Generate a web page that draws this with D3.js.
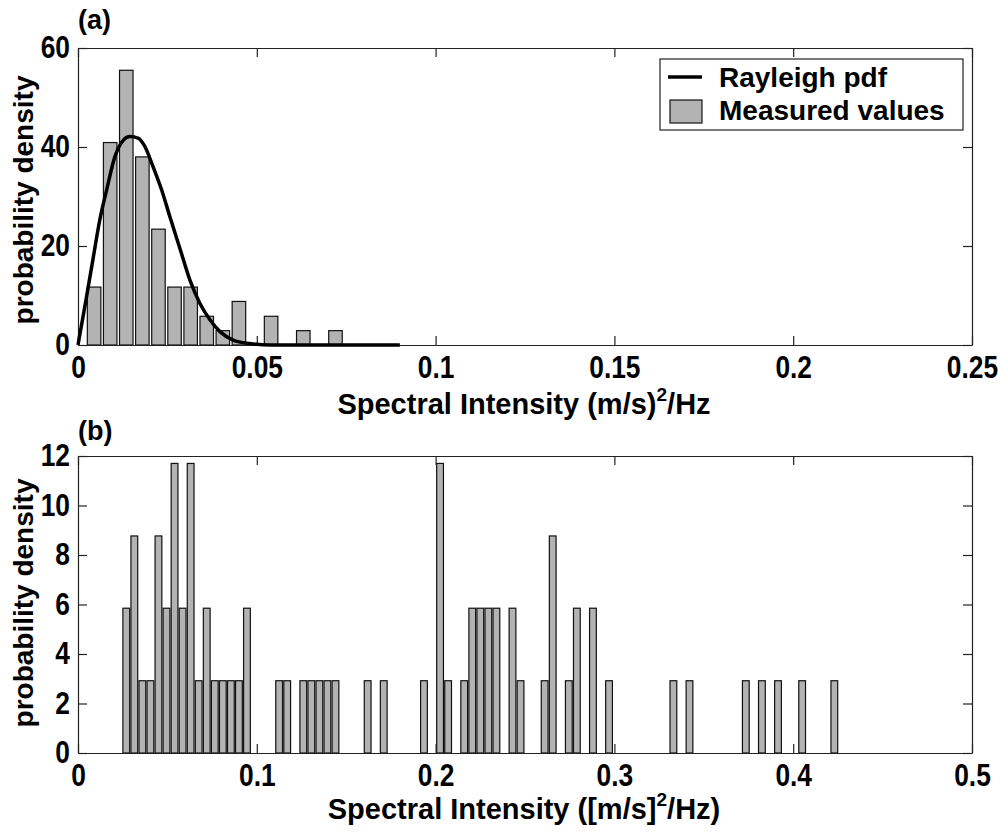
<!DOCTYPE html>
<html>
<head>
<meta charset="utf-8">
<script src="https://cdn.jsdelivr.net/npm/d3@7"></script>
<style>
body { margin: 0; background: #fff; }
svg { display: block; }
</style>
</head>
<body>
<script>
var width = 998;
var height = 833;

// ---- panel (a) data ----
const aBinCenters = [0.0045, 0.009, 0.0135, 0.018, 0.0225, 0.027, 0.0315, 0.036,
    0.0405, 0.045, 0.0495, 0.054, 0.0585, 0.063, 0.0675, 0.072];
const aDensity = [11.7, 40.9, 55.5, 38.0, 23.4, 11.7, 11.7, 5.8,
    2.9, 8.8, 0, 5.8, 0, 2.9, 0, 2.9];
// rayleigh pdf
const rayX = [0, 0.0024, 0.0043, 0.0061, 0.008, 0.0103, 0.0127, 0.0145, 0.0168, 0.0187,
    0.021, 0.0234, 0.0257, 0.0285, 0.0313, 0.0341, 0.0369, 0.0397, 0.0434, 0.048, 0.054, 0.07, 0.09];
const rayY = [0, 9.8, 17.8, 25.3, 31.3, 38.0, 41.4, 42.1, 41.8, 40.1,
    36.0, 31.3, 25.9, 19.5, 13.1, 8.4, 5.1, 2.7, 1.0, 0.3, 0, 0, 0];
const aXTicks = [0, 0.05, 0.1, 0.15, 0.2, 0.25];
const aYTicks = [0, 20, 40, 60];

// ---- panel (b) data ----
const bBinCenters = [0.027, 0.0315, 0.036, 0.0405, 0.045, 0.0495, 0.054, 0.0585, 0.063, 0.0675,
    0.072, 0.0765, 0.081, 0.0855, 0.09, 0.0945, 0.1125, 0.117, 0.126, 0.1305, 0.135, 0.1395, 0.144,
    0.162, 0.171, 0.1935, 0.2025, 0.207, 0.216, 0.2205, 0.225, 0.2295, 0.234, 0.243, 0.2475,
    0.261, 0.2655, 0.2745, 0.279, 0.288, 0.297, 0.333, 0.342, 0.3735, 0.3825, 0.3915, 0.405, 0.423];
const bDensity = [5.85, 8.77, 2.92, 2.92, 8.77, 5.85, 11.7, 5.85, 11.7, 2.92,
    5.85, 2.92, 2.92, 2.92, 2.92, 5.85, 2.92, 2.92, 2.92, 2.92, 2.92, 2.92, 2.92,
    2.92, 2.92, 2.92, 11.7, 2.92, 2.92, 5.85, 5.85, 5.85, 5.85, 5.85, 2.92,
    2.92, 8.77, 2.92, 5.85, 5.85, 2.92, 2.92, 2.92, 2.92, 2.92, 2.92, 2.92, 2.92];
const bXTicks = [0, 0.1, 0.2, 0.3, 0.4, 0.5];
const bYTicks = [0, 2, 4, 6, 8, 10, 12];

const binWidth = 0.0045;
const legendLabels = ["Rayleigh pdf", "Measured values"];

var font = "'Liberation Sans', Arial, sans-serif";
var squeeze = 0.85; // tick labels look narrow

var svg = d3.select("body").append("svg")
    .attr("width", width)
    .attr("height", height);

svg.append("rect").attr("width", width).attr("height", height).attr("fill", "#fff");

function panel(top, bottom, xmax, ymax, xTicks, yTicks, centers, dens) {
    var x = d3.scaleLinear().domain([0, xmax]).range([78, 972]);
    var y = d3.scaleLinear().domain([0, ymax]).range([bottom, top]);
    var g = svg.append("g");

    var bw = x(binWidth * 0.84) - x(0);
    g.append("g").selectAll("rect")
        .data(centers)
        .enter()
        .filter(function(d, i) { return dens[i] > 0; })
        .append("rect")
        .attr("x", function(d) { return x(d) - bw / 2; })
        .attr("width", bw)
        .attr("y", function(d) { return y(dens[centers.indexOf(d)]); })
        .attr("height", function(d) { return y(0) - y(dens[centers.indexOf(d)]); })
        .attr("fill", "#b3b3b3")
        .attr("stroke", "#111")
        .attr("stroke-width", 1.2);

    var ax = {
        bottom: d3.axisBottom(x).tickValues(xTicks).tickSizeInner(-9).tickSizeOuter(0).tickPadding(11).tickFormat(function(d) { return d; }),
        top: d3.axisTop(x).tickValues(xTicks).tickSizeInner(-9).tickSizeOuter(0).tickFormat(""),
        left: d3.axisLeft(y).tickValues(yTicks).tickSizeInner(-9).tickSizeOuter(0).tickPadding(8 / squeeze).tickFormat(function(d) { return d; }),
        right: d3.axisRight(y).tickValues(yTicks).tickSizeInner(-9).tickSizeOuter(0).tickFormat("")
    };
    g.append("g").attr("transform", "translate(0," + bottom + ")").call(ax.bottom);
    g.append("g").attr("transform", "translate(0," + top + ")").call(ax.top);
    g.append("g").attr("transform", "translate(78,0)").call(ax.left);
    g.append("g").attr("transform", "translate(972,0)").call(ax.right);

    g.selectAll(".domain, .tick line").attr("stroke", "#222").attr("stroke-width", 1.2);
    g.selectAll(".tick text")
        .attr("font-family", font)
        .attr("font-size", 31)
        .attr("font-weight", "bold")
        .attr("fill", "#000")
        .attr("transform", "scale(" + squeeze + ",1)");

    return {x: x, y: y, g: g};
}

var a = panel(48, 345, 0.25, 60, aXTicks, aYTicks, aBinCenters, aDensity);

// rayleigh curve
var line = d3.line()
    .x(function(d, i) { return a.x(rayX[i]); })
    .y(function(d, i) { return a.y(rayY[i]); })
    .curve(d3.curveMonotoneX);
a.g.append("path")
    .datum(rayY)
    .attr("d", line)
    .attr("fill", "none")
    .attr("stroke", "#000")
    .attr("stroke-width", 3.5);

var b = panel(456, 753, 0.5, 12, bXTicks, bYTicks, bBinCenters, bDensity);

// legend
var lg = svg.append("g");
lg.append("rect").attr("x", 660).attr("y", 59).attr("width", 303).attr("height", 71)
    .attr("fill", "#fff").attr("stroke", "#222").attr("stroke-width", 1.2);
lg.append("line").attr("x1", 668).attr("x2", 702).attr("y1", 77).attr("y2", 77)
    .attr("stroke", "#000").attr("stroke-width", 3.5);
lg.append("rect").attr("x", 670).attr("y", 100).attr("width", 32).attr("height", 23)
    .attr("fill", "#b3b3b3").attr("stroke", "#111").attr("stroke-width", 1.2);
lg.selectAll("text.leg")
    .data(legendLabels)
    .enter()
    .append("text")
    .attr("class", "leg")
    .attr("x", 719)
    .attr("y", function(d, i) { return 87 + i * 33; })
    .attr("font-family", font)
    .attr("font-size", 28)
    .attr("font-weight", "bold")
    .text(function(d) { return d; });

// labels
function label(txt, x, y, size) {
    return svg.append("text")
        .attr("x", x).attr("y", y)
        .attr("font-family", font)
        .attr("font-size", size)
        .attr("font-weight", "bold")
        .text(txt);
}
label("(a)", 78, 29, 27);
label("(b)", 78, 440, 27);

function xlab(y, pre, post) {
    var t = svg.append("text")
        .attr("x", 524).attr("y", y)
        .attr("text-anchor", "middle")
        .attr("font-family", font)
        .attr("font-size", 29)
        .attr("font-weight", "bold");
    t.append("tspan").text(pre);
    t.append("tspan").attr("dy", -13).attr("font-size", 19).text("2");
    t.append("tspan").attr("dy", 13).text(post);
}
xlab(414, "Spectral Intensity (m/s)", "/Hz");
xlab(819, "Spectral Intensity ([m/s]", "/Hz)");

[200, 603].forEach(function(cy) {
    svg.append("text")
        .attr("transform", "translate(33," + cy + ") rotate(-90)")
        .attr("text-anchor", "middle")
        .attr("font-family", font)
        .attr("font-size", 28)
        .attr("font-weight", "bold")
        .text("probability density");
});
</script>
</body>
</html>
